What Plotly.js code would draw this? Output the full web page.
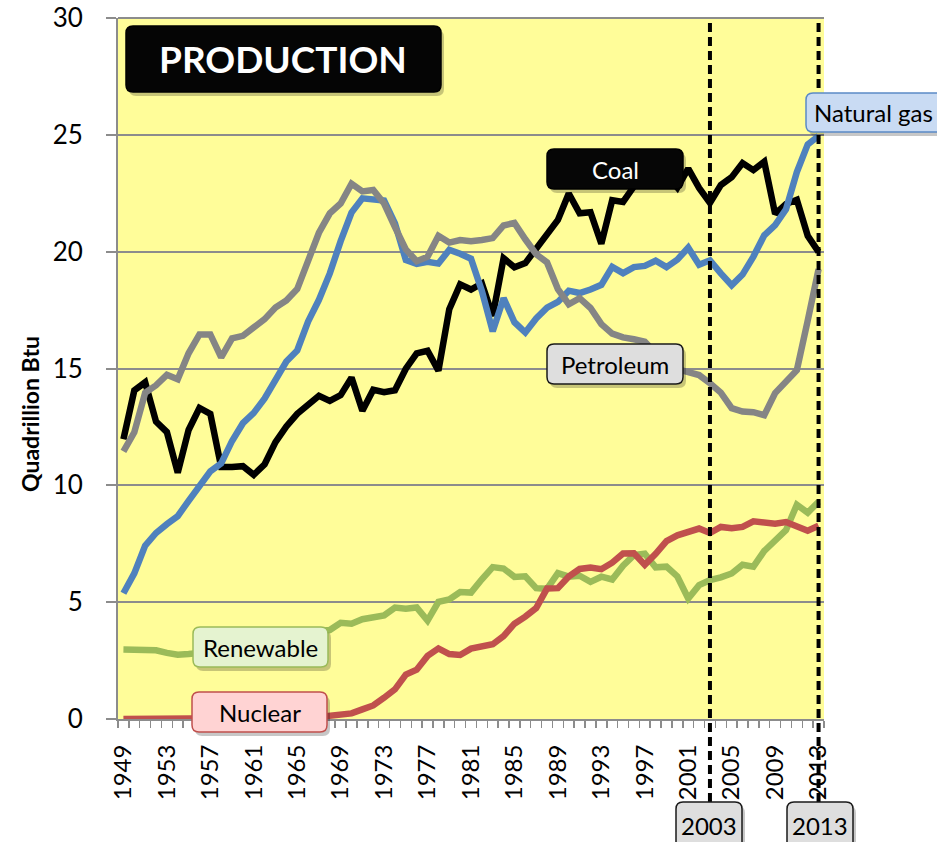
<!DOCTYPE html>
<html>
<head>
<meta charset="utf-8">
<script src="https://cdn.plot.ly/plotly-3.0.1.min.js"></script>
<style>
  html, body { margin: 0; padding: 0; background: #ffffff; }
  #chart { width: 937px; height: 842px; }
</style>
</head>
<body>
<div id="chart"></div>
<script>
// ---------------- DATA (quadrillion Btu) ----------------
const years = [1949,1950,1951,1952,1953,1954,1955,1956,1957,1958,
               1959,1960,1961,1962,1963,1964,1965,1966,1967,1968,
               1969,1970,1971,1972,1973,1974,1975,1976,1977,1978,
               1979,1980,1981,1982,1983,1984,1985,1986,1987,1988,
               1989,1990,1991,1992,1993,1994,1995,1996,1997,1998,
               1999,2000,2001,2002,2003,2004,2005,2006,2007,2008,
               2009,2010,2011,2012,2013];

const coal = [11.97,14.06,14.41,12.73,12.28,10.54,12.37,13.31,13.06,10.78,
              10.78,10.82,10.45,10.90,11.85,12.52,13.06,13.47,13.83,13.61,
              13.86,14.61,13.19,14.09,13.99,14.07,14.99,15.65,15.76,14.91,
              17.54,18.60,18.38,18.64,17.25,19.72,19.33,19.51,20.14,20.74,
              21.36,22.49,21.64,21.69,20.34,22.20,22.13,22.79,23.31,24.05,
              23.30,22.74,23.55,22.73,22.09,22.85,23.19,23.79,23.49,23.85,
              21.62,22.04,22.22,20.68,19.99];

const naturalGas = [5.38,6.23,7.42,7.96,8.34,8.68,9.34,10.00,10.60,10.94,
                    11.90,12.66,13.10,13.72,14.51,15.30,15.77,17.01,17.94,19.07,
                    20.45,21.67,22.28,22.21,22.19,21.21,19.64,19.48,19.57,19.49,
                    20.08,19.91,19.70,18.32,16.59,18.01,16.98,16.54,17.14,17.60,
                    17.85,18.33,18.23,18.38,18.58,19.35,19.08,19.34,19.39,19.61,
                    19.34,19.66,20.17,19.44,19.63,19.07,18.56,19.02,19.79,20.70,
                    21.14,21.81,23.41,24.59,24.95];

const petroleum = [11.45,12.27,13.96,14.28,14.73,14.54,15.65,16.46,16.46,15.48,
                   16.29,16.40,16.76,17.11,17.61,17.91,18.40,19.60,20.81,21.64,
                   22.06,22.91,22.58,22.64,22.06,21.05,20.10,19.59,19.78,20.68,
                   20.39,20.50,20.45,20.50,20.58,21.12,21.23,20.53,19.89,19.54,
                   18.40,17.75,18.01,17.59,16.90,16.49,16.33,16.25,16.15,15.66,
                   14.98,14.97,14.83,14.72,14.37,13.97,13.30,13.16,13.13,13.00,
                   13.95,14.43,14.93,17.05,19.25];

const renewable = [2.97,2.98,2.96,2.94,2.83,2.75,2.78,2.85,2.87,3.09,
                   3.07,2.93,2.98,3.15,3.19,3.33,3.40,3.53,3.77,3.81,
                   4.12,4.08,4.27,4.38,4.43,4.77,4.72,4.77,4.21,5.01,
                   5.12,5.43,5.41,5.98,6.50,6.44,6.08,6.11,5.60,5.57,
                   6.24,6.09,6.13,5.87,6.09,5.97,6.56,7.01,7.07,6.49,
                   6.52,6.10,5.16,5.73,5.94,6.06,6.23,6.60,6.52,7.19,
                   7.61,8.08,9.17,8.83,9.30];

const nuclear = [0.00,0.00,0.00,0.00,0.00,0.00,0.00,0.00,0.00,0.00,
                 0.00,0.01,0.02,0.03,0.04,0.04,0.04,0.06,0.09,0.14,
                 0.15,0.24,0.41,0.58,0.91,1.27,1.90,2.11,2.70,3.02,
                 2.78,2.74,3.01,3.13,3.20,3.55,4.08,4.38,4.75,5.59,
                 5.60,6.10,6.42,6.48,6.41,6.69,7.08,7.09,6.60,7.07,
                 7.61,7.86,8.03,8.15,7.96,8.22,8.16,8.22,8.46,8.43,
                 8.36,8.43,8.27,8.06,8.27];

const tickYears = [1949,1953,1957,1961,1965,1969,1973,1977,1981,1985,1989,1993,1997,2001,2005,2009,2013];
const tickLabels = tickYears.map(String);
const yTicks = [0,5,10,15,20,25,30];
const markerYears = [2003, 2013];
const markerLabels = ['2003', '2013'];

const seriesNames = ['Coal', 'Natural gas', 'Petroleum', 'Renewable', 'Nuclear'];
const seriesValues = [coal, naturalGas, petroleum, renewable, nuclear];
const seriesColors = ['#000000', '#4F81BD', '#858585', '#9BBB59', '#C0504D'];

// ---------------- LAYOUT HELPERS ----------------
const FIG_W = 937, FIG_H = 842;
const M = {l: 118, r: 113, t: 18, b: 123};
const PW = FIG_W - M.l - M.r, PH = FIG_H - M.t - M.b;
const xp = X => (X - M.l) / PW;
const yp = Y => (M.t + PH - Y) / PH;

function rrect(x0, y0, x1, y1, r) {
  const X = xp, Y = yp;
  return `M ${X(x0 + r)},${Y(y0)} L ${X(x1 - r)},${Y(y0)} Q ${X(x1)},${Y(y0)} ${X(x1)},${Y(y0 + r)} ` +
         `L ${X(x1)},${Y(y1 - r)} Q ${X(x1)},${Y(y1)} ${X(x1 - r)},${Y(y1)} ` +
         `L ${X(x0 + r)},${Y(y1)} Q ${X(x0)},${Y(y1)} ${X(x0)},${Y(y1 - r)} ` +
         `L ${X(x0)},${Y(y0 + r)} Q ${X(x0)},${Y(y0)} ${X(x0 + r)},${Y(y0)} Z`;
}

const FONT = 'Lato, "Open Sans", sans-serif';

// label boxes: [text, x0, y0, x1, y1, fill, border, textColor, fontSize, bold, textCx]
const boxes = [
  ['PRODUCTION', 126, 26, 441, 92, '#050505', '#000000', '#ffffff', 37, true, 283],
  ['Coal', 547, 149, 683, 189, '#060606', '#000000', '#ffffff', 24, false, 615],
  ['Natural gas', 806, 93, 950, 132, '#C9DBF3', '#5B8AC6', '#000000', 24, false, 873],
  ['Petroleum', 547, 344, 683, 384, '#DEDEDE', '#1a1a1a', '#000000', 24, false, 615],
  ['Renewable', 193, 627, 328, 667, '#E5F3D0', '#9BBB59', '#000000', 24, false, 260.5],
  ['Nuclear', 192, 692, 327, 732, '#FFD3D3', '#C0504D', '#000000', 24, false, 259.5],
  [markerLabels[0], 676, 802, 742, 852, '#DEDEDE', '#1a1a1a', '#000000', 24, false, 709],
  [markerLabels[1], 787, 802, 853, 852, '#DEDEDE', '#1a1a1a', '#000000', 24, false, 820]
];

const shapes = [];
// top border of plot
shapes.push({type: 'line', xref: 'paper', yref: 'paper', x0: 0, x1: 1, y0: 1, y1: 1,
             line: {color: '#8c8c8c', width: 2}, layer: 'below'});
// dashed year markers
markerYears.forEach(yr => {
  shapes.push({type: 'line', xref: 'x', yref: 'paper', x0: yr, x1: yr,
               y0: yp(802), y1: 1, line: {color: '#000000', width: 4, dash: '9px,5px'}});
});
// shadows then boxes
boxes.forEach(b => {
  shapes.push({type: 'path', xref: 'paper', yref: 'paper',
               path: rrect(b[1] + 3, b[2] + 4, b[3] + 3, b[4] + 4, 7),
               fillcolor: 'rgba(0,0,0,0.22)', line: {width: 0}});
});
boxes.forEach(b => {
  shapes.push({type: 'path', xref: 'paper', yref: 'paper',
               path: rrect(b[1], b[2], b[3], b[4], 7),
               fillcolor: b[5], line: {color: b[6], width: 1.5}});
});

const annotations = boxes.map(b => ({
  xref: 'paper', yref: 'paper', x: xp(b[10]), y: yp((b[2] + b[4]) / 2 + (b[4] > 800 ? -2 : 0)),
  xanchor: 'center', yanchor: 'middle', showarrow: false,
  text: b[9] ? '<b>' + b[0] + '</b>' : b[0],
  font: {family: FONT, size: b[8], color: b[7]}
}));
annotations.push({
  xref: 'paper', yref: 'paper', x: xp(30), y: yp(414), xanchor: 'center', yanchor: 'middle',
  showarrow: false, textangle: -90, text: '<b>Quadrillion Btu</b>',
  font: {family: FONT, size: 23, color: '#000000'}
});

const traces = seriesNames.map((name, i) => ({
  type: 'scatter', mode: 'lines', name: name, x: years, y: seriesValues[i],
  line: {color: seriesColors[i], width: 6.5}, hoverinfo: 'x+y+name'
}));

const layout = {
  width: FIG_W, height: FIG_H,
  margin: M,
  paper_bgcolor: '#ffffff',
  plot_bgcolor: '#FFFD99',
  showlegend: false,
  font: {family: FONT, color: '#000000'},
  xaxis: {
    range: [years[0] - 0.5, years[years.length - 1] + 0.5],
    tickmode: 'array', tickvals: tickYears, ticktext: tickLabels,
    tickangle: -90, tickfont: {family: FONT, size: 24, color: '#000000'},
    ticks: 'outside', ticklen: 7, tickcolor: 'rgba(0,0,0,0)',
    ticklabelstandoff: 7,
    minor: {tick0: years[0] - 0.5, dtick: 1, ticks: 'outside', ticklen: 7,
            tickcolor: '#8c8c8c', tickwidth: 1.5, showgrid: false},
    showgrid: false, zeroline: false,
    showline: true, linecolor: '#8c8c8c', linewidth: 2
  },
  yaxis: {
    range: [0, 30], tickmode: 'array', tickvals: yTicks,
    tickfont: {family: FONT, size: 26, color: '#000000'},
    ticks: 'outside', ticklen: 10, tickcolor: '#8c8c8c', tickwidth: 2,
    ticklabelstandoff: 18,
    showgrid: true, gridcolor: '#8c8c8c', gridwidth: 2,
    zeroline: false, showline: true, linecolor: '#8c8c8c', linewidth: 2
  },
  shapes: shapes,
  annotations: annotations
};

Plotly.newPlot('chart', traces, layout, {displayModeBar: false, staticPlot: true});
</script>
</body>
</html>
